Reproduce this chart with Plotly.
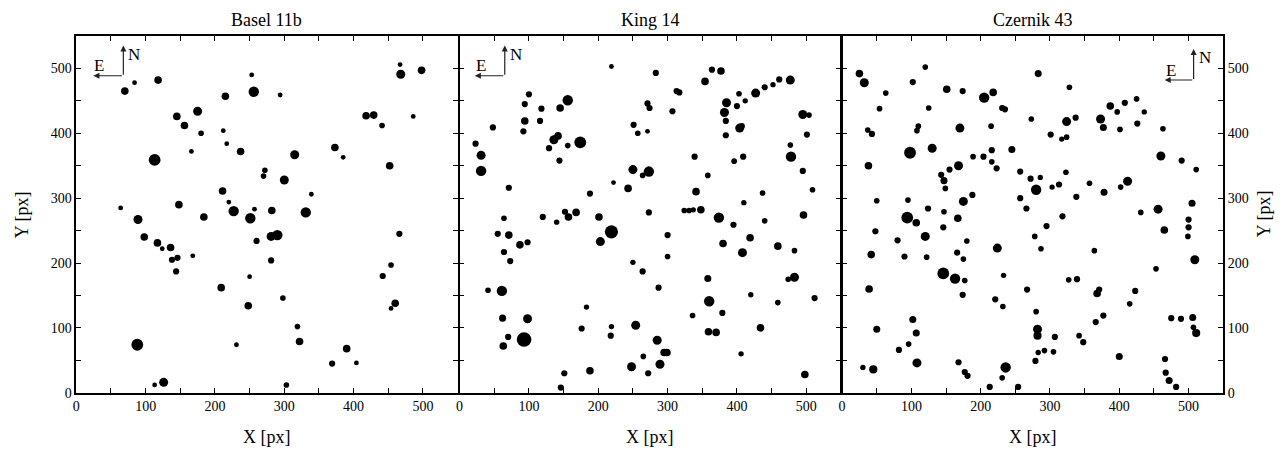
import plotly.graph_objects as go

# ---------------- data (X [px], Y [px], brightness class) ----------------
titles = ["Basel 11b", "King 14", "Czernik 43"]

b11_x = [70, 84, 118, 253, 256, 215, 175, 145, 156, 180, 212, 217, 237, 166, 113, 211, 220, 64, 148, 227, 257,
         467, 468, 498, 294, 418, 429, 486, 441, 373, 385, 315, 272, 270, 452, 300, 339, 282, 331,
         89, 184, 251, 98, 117, 124, 136, 138, 146, 144, 168, 260, 250, 209, 248, 88, 231, 113, 126,
         281, 290, 466, 281, 454, 442, 460, 454, 298, 319, 322, 390, 369, 404, 303]
b11_y = [465, 478, 482, 490, 464, 457, 434, 426, 412, 400, 404, 384, 372, 372, 359, 311, 294, 285, 290, 280, 283,
         506, 491, 497, 459, 427, 428, 426, 412, 378, 363, 367, 343, 334, 350, 328, 306, 281, 278,
         267, 271, 269, 240, 231, 222, 224, 205, 208, 187, 211, 234, 179, 162, 134, 74, 74, 12, 16,
         241, 243, 245, 204, 197, 180, 138, 130, 146, 102, 79, 68, 45, 46, 12]
b11_m = [2, 1, 2, 1, 3, 2, 2.5, 2, 2, 1.3, 1, 1, 2, 1, 3.5, 2, 1, 1, 2, 3, 1,
         1, 2.5, 2, 1, 2, 2, 1, 1.3, 2, 1, 2.5, 1.3, 1.3, 2, 2.5, 1, 2, 3,
         2.5, 2, 3, 2, 2, 1, 2, 1.5, 1.5, 1.5, 1, 1.5, 1, 2, 2, 3.5, 1, 1, 2.5,
         2.5, 3, 1.5, 1.5, 1.3, 1.5, 2, 1, 1.3, 1.3, 2, 2, 1.5, 1, 1.3]

k14_x = [219, 100, 94, 118, 156, 145, 94, 116, 48, 92, 142, 136, 174, 156, 129, 23, 31, 31, 144, 71, 188, 222,
         250, 264, 273, 243, 251, 257, 271, 271, 274, 152, 168, 273,
         283, 364, 377, 354, 313, 317, 307, 403, 412, 427, 440, 452, 461, 477, 385, 400, 382, 384, 404, 407,
         384, 495, 504, 501, 477, 478, 339, 396, 409, 358, 495, 341, 437, 509, 410, 324, 331, 337, 348, 374,
         440, 496,
         64, 120, 140, 157, 201, 55, 71, 87, 98, 64, 73, 219, 203, 250, 264, 41, 61, 183, 62, 98, 70, 63, 93,
         176, 219, 218, 254, 265, 248, 272, 188, 151, 146,
         395, 300, 300, 380, 419, 408, 459, 483, 358, 474, 483, 287, 420, 360, 459, 512, 336, 379, 434, 359,
         370, 285, 295, 299, 289, 406, 498]
k14_y = [503, 460, 445, 438, 451, 439, 419, 419, 409, 403, 396, 390, 386, 381, 377, 384, 366, 342, 358, 316, 307, 324,
         344, 335, 341, 315, 413, 400, 403, 446, 439, 279, 278, 278,
         493, 498, 496, 480, 465, 463, 434, 461, 450, 462, 471, 475, 483, 482, 447, 442, 432, 419, 408, 411,
         397, 429, 428, 398, 382, 364, 364, 357, 364, 335, 342, 310, 308, 313, 293, 281, 281, 282, 282, 270,
         265, 274,
         269, 271, 263, 271, 271, 245, 243, 228, 232, 217, 203, 248, 233, 201, 187, 158, 157, 132, 115, 114, 86,
         72, 82, 99, 102, 88, 104, 56, 40, 30, 34, 30, 8,
         259, 243, 210, 230, 239, 216, 226, 219, 176, 175, 178, 162, 151, 141, 139, 146, 119, 123, 100, 94,
         93, 81, 62, 62, 44, 60, 28]
k14_m = [1, 1.5, 1.5, 1.5, 3, 2, 2, 1.5, 1.5, 1.5, 2, 2.5, 3.5, 1.3, 1.5, 1.5, 2.5, 3, 1.5, 1.5, 1.5, 1,
         2.5, 1.3, 3, 2, 1.5, 1.3, 1, 1.5, 1.5, 1.5, 2, 1.5,
         1.5, 1.5, 2, 2, 1.5, 1.5, 1.5, 1.3, 1.2, 2.5, 1.5, 1.2, 1.5, 2.5, 2.5, 1.5, 2.5, 1.5, 2.5, 1.5,
         1.5, 2.5, 1.3, 1.5, 1.3, 3, 1.5, 1.3, 1.5, 1.3, 1.5, 2, 1.3, 1.3, 1.2, 1.3, 1.3, 1.2, 2, 3,
         1.3, 2,
         1.3, 1.5, 1.2, 2, 2, 1.5, 2, 2, 1.5, 1.5, 1.5, 4, 2.5, 1.2, 1.5, 1.3, 3, 1.2, 1.8, 2.5, 1.5, 2, 4.5,
         1.5, 1.2, 1.5, 2.5, 1.3, 2.5, 1.5, 2, 1.5, 1.5,
         1.5, 1.5, 1.3, 2, 2, 2.5, 2, 1.3, 1.8, 1.3, 2.5, 1.5, 1.2, 3, 1.3, 1.5, 1.3, 1.5, 2, 2,
         2, 2.5, 2, 2, 2.5, 1.2, 2]

c43_x = [25, 32, 120, 63, 102, 151, 174, 205, 218, 54, 125, 231, 235, 273, 37, 43, 110, 108, 170, 215, 98, 130,
         189, 204, 216, 216, 223, 245, 38, 143, 155, 168, 147, 149, 188, 175, 257, 50, 95, 124, 147, 257, 266,
         283, 328, 324, 337, 301, 317, 324, 373, 377, 387, 397, 408, 425, 436, 401, 426, 463, 460, 490, 511,
         272, 286, 280, 303, 313, 323, 338, 357, 378, 402, 412, 431, 456, 505,
         94, 107, 167, 48, 80, 120, 146, 180, 42, 90, 122, 166, 175, 224, 146, 163, 177, 174, 233, 267, 39,
         221, 232, 102, 107, 50, 96, 82, 108, 30, 45, 168, 177, 181, 213, 236, 231, 254,
         318, 500, 295, 278, 287, 364, 465, 500, 499, 509, 453, 327, 339, 368, 371, 423, 415, 280, 282, 282,
         307, 283, 292, 305, 279, 366, 377, 342, 348, 400, 475, 489, 506, 507, 511, 466, 467, 472, 482]
c43_y = [492, 478, 502, 462, 479, 468, 465, 455, 463, 438, 439, 439, 437, 422, 405, 399, 411, 404, 408, 411, 370, 377,
         364, 364, 374, 356, 346, 375, 350, 336, 344, 350, 327, 315, 305, 295, 341, 296, 297, 284, 279, 300, 284,
         492, 471, 418, 424, 398, 391, 394, 422, 409, 442, 433, 447, 453, 433, 406, 415, 407, 365, 358, 344,
         330, 332, 313, 317, 321, 340, 302, 323, 309, 317, 326, 278, 283, 292,
         270, 262, 269, 249, 235, 241, 255, 234, 213, 210, 209, 216, 206, 223, 184, 176, 173, 151, 181, 159, 160,
         144, 133, 113, 92, 98, 75, 66, 46, 39, 36, 47, 32, 26, 9, 39, 23, 9,
         272, 267, 257, 241, 222, 219, 251, 255, 241, 205, 191, 174, 175, 153, 159, 157, 137, 125, 98, 88,
         86, 62, 65, 63, 49, 109, 119, 88, 78, 56, 115, 114, 116, 101, 92, 52, 31, 19, 9]
c43_m = [2, 2.5, 1.3, 1.3, 1.5, 2, 1.5, 3, 2, 1.3, 1.3, 1.5, 1.5, 1.3, 1.3, 1.5, 1.3, 1.3, 2.5, 1.3, 3.5, 2.5,
         1.3, 1.5, 1.5, 1.3, 1.5, 1.8, 2, 1.5, 1.5, 2.5, 1.8, 1.3, 1.5, 2.5, 1.5, 1.3, 1.3, 1.5, 1.3, 1.5, 1.5,
         1.8, 1.3, 2.5, 1.5, 1.5, 1.2, 1.3, 2.5, 1.8, 2, 1.3, 1.5, 1.3, 1.2, 1.3, 1.5, 1.3, 2.5, 1.5, 1.3,
         1.5, 1.2, 3, 1.2, 1.5, 1.3, 1.5, 1.3, 1.8, 1.3, 2.5, 1.3, 2.5, 1.8,
         3.5, 2, 2, 1.5, 1.5, 2.5, 1.5, 1.3, 2, 1.5, 1.3, 1.5, 1.3, 2.5, 3.5, 3, 1.3, 1.5, 1.2, 1.5, 2,
         1.5, 1.3, 1.8, 1.8, 1.8, 1.3, 1.5, 2.5, 1.2, 2.2, 1.5, 1.5, 1.5, 1.5, 3, 1.3, 1.5,
         1.5, 1.5, 1.5, 1.3, 1.3, 1.3, 2, 1.5, 1.3, 2.5, 1.3, 1.3, 1.5, 2, 1.5, 1.5, 1.3, 1.3, 2.5, 2.2,
         1.5, 1.2, 1.3, 1.3, 1.5, 1.5, 1.5, 1.3, 1.5, 1.8, 1.5, 1.5, 1.8, 1.3, 2.2, 1.5, 1.5, 1.8, 1.5]

axis_max = 550
tick_step = 50
label_step = 100

# ---------------- figure ----------------
W, H = 1286, 450
FONT = "Liberation Serif, Times New Roman, serif"

x_dom = [[64.5 / W, 447.0 / W], [449.0 / W, 831.5 / W], [832.7 / W, 1215.0 / W]]
y_dom = [1 - 391.7 / H, 1 - 28.5 / H]

tickvals = list(range(0, axis_max + 1, tick_step))
ticktext = [str(v) if v % label_step == 0 else "" for v in tickvals]

fig = go.Figure()
panels = [(b11_x, b11_y, b11_m), (k14_x, k14_y, k14_m), (c43_x, c43_y, c43_m)]
for i, (xs, ys, ms) in enumerate(panels):
    sfx = "" if i == 0 else str(i + 1)
    fig.add_trace(go.Scatter(
        x=xs, y=ys, mode="markers",
        marker=dict(color="black", opacity=1, size=[2 + 2.8 * m for m in ms], line=dict(width=0)),
        xaxis="x" + sfx, yaxis="y" + sfx, showlegend=False, hoverinfo="skip"))

common = dict(range=[0, axis_max], tickvals=tickvals, ticktext=ticktext, ticks="inside",
              ticklen=5, tickwidth=1, tickcolor="black", showline=True, linecolor="black",
              linewidth=1.5, mirror="ticks", showgrid=False, zeroline=False,
              tickfont=dict(family=FONT, size=14, color="black"), fixedrange=True)

for i in range(3):
    sfx = "" if i == 0 else str(i + 1)
    fig.layout["xaxis" + sfx] = dict(common, domain=x_dom[i], anchor="y" + sfx)
    yax = dict(common, domain=y_dom, anchor="x" + sfx)
    if i == 1:
        yax["showticklabels"] = False
    if i == 2:
        yax["side"] = "right"
    fig.layout["yaxis" + sfx] = yax

ann = []
for i in range(3):
    cx = (x_dom[i][0] + x_dom[i][1]) / 2
    ann.append(dict(text=titles[i], x=cx, y=1 - 12 / H, xref="paper", yref="paper",
                    showarrow=False, font=dict(family=FONT, size=18, color="black"),
                    xanchor="center", yanchor="middle"))
    ann.append(dict(text="X [px]", x=cx, y=1 - 437 / H, xref="paper", yref="paper",
                    showarrow=False, font=dict(family=FONT, size=18, color="black"),
                    xanchor="center", yanchor="middle"))
ymid = 1 - 210 / H
ann.append(dict(text="Y [px]", x=10 / W, y=ymid, xref="paper", yref="paper", textangle=-90,
                showarrow=False, font=dict(family=FONT, size=18, color="black"),
                xanchor="center", yanchor="middle"))
ann.append(dict(text="Y [px]", x=1256 / W, y=ymid, xref="paper", yref="paper", textangle=-90,
                showarrow=False, font=dict(family=FONT, size=18, color="black"),
                xanchor="center", yanchor="middle"))

# compass (N up, E left): corner px, arm length
compass = [(111.7, 69.0, 81.7, 38.3), (494.3, 69.0, 464.3, 38.3), (1185.3, 73.3, 1156.3, 41.7)]
for cxp, cyp, extip, ntip in compass:
    ann.append(dict(x=cxp / W, y=1 - ntip / H, xref="paper", yref="paper", ax=0, ay=cyp - ntip,
                    showarrow=True, arrowhead=2, arrowsize=1, arrowwidth=1.2, arrowcolor="#222", text=""))
    ann.append(dict(x=extip / W, y=1 - cyp / H, xref="paper", yref="paper", ax=cxp - extip, ay=0,
                    showarrow=True, arrowhead=2, arrowsize=1, arrowwidth=1.2, arrowcolor="#222", text=""))
    ann.append(dict(text="N", x=(cxp + 3) / W, y=1 - (ntip + 9) / H, xref="paper", yref="paper",
                    showarrow=False, xanchor="left", yanchor="middle",
                    font=dict(family=FONT, size=17, color="black")))
    ann.append(dict(text="E", x=(extip + 6) / W, y=1 - (cyp - 10) / H, xref="paper", yref="paper",
                    showarrow=False, xanchor="center", yanchor="middle",
                    font=dict(family=FONT, size=17, color="black")))

fig.update_layout(width=W, height=H, margin=dict(l=0, r=0, t=0, b=0),
                  paper_bgcolor="white", plot_bgcolor="white", annotations=ann)

fig.write_html("out.html")
